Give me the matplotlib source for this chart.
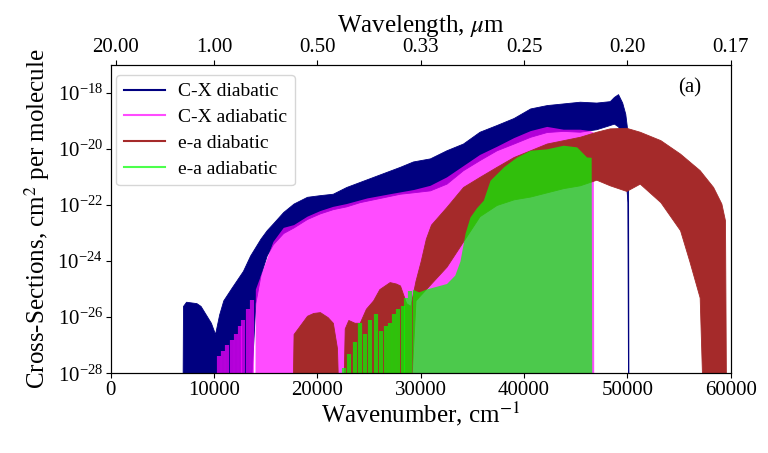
import numpy as np
import matplotlib
matplotlib.use("Agg")
import matplotlib.pyplot as plt
from matplotlib.lines import Line2D
from matplotlib.ticker import NullLocator

plt.rcParams['font.family'] = 'serif'
plt.rcParams['font.serif'] = ['Liberation Serif', 'DejaVu Serif']
plt.rcParams['mathtext.fontset'] = 'stix'

FLOOR = -29.0  # below the lower y limit

# C-X diabatic: wavenumber (cm-1), log10 of upper / lower envelope of the band
cx_dia_wn = [6950, 7000, 7300, 8300, 8700, 9200, 9700, 10100, 10500, 10900, 11700, 12800, 13500,
             14000, 14500, 15100, 15700, 16700, 17700, 19000, 20250, 21500, 22800,
             24100, 25400, 26700, 28000, 29250, 30900, 32500, 34100, 35700, 37350,
             39000, 40600, 42200, 43800, 45400, 47000, 48300, 48700, 49100, 49500,
             49800, 49950, 50000, 50070, 50110]
cx_dia_hi = [FLOOR, -25.6, -25.45, -25.5, -25.6, -25.9, -26.2, -26.6, -25.9, -25.4, -24.95, -24.35, -23.8,
             -23.5, -23.2, -22.9, -22.66, -22.25, -21.95, -21.71, -21.65, -21.6, -21.36,
             -21.18, -21.0, -20.82, -20.64, -20.45, -20.34, -20.05, -19.81, -19.39, -19.15,
             -18.9, -18.56, -18.44, -18.38, -18.32, -18.35, -18.3, -18.15, -18.05, -18.35,
             -18.75, -19.2, -19.6, -21.2, FLOOR]
cx_dia_lo = [FLOOR] * 13 + \
            [-25.5, -24.5, -23.8, -23.4, -23.0, -22.8, -22.5, -22.3, -22.15, -22.05,
             -21.9, -21.8, -21.7, -21.6, -21.55, -21.48, -21.24, -20.76, -20.4, -20.05,
             -19.81, -19.57, -19.4, -19.36, -19.39, -19.3, -19.15, -19.1, -19.2, -19.5,
             -21.0, -21.6, -21.9, FLOOR, FLOOR]

# C-X adiabatic: separate teeth below 14000 cm-1, then a band down to the floor
cx_adi_teeth_wn = [10500, 10900, 11250, 11700, 12100, 12500, 12850, 13250, 13650]
cx_adi_teeth_hi = [-27.4, -27.2, -27.0, -26.8, -26.6, -26.3, -26.1, -25.7, -25.4]
cx_adi_wn = [13950, 14000, 14800, 15700, 16700,
             17700, 19000, 20250, 21500, 22800, 24800, 27000, 29300, 30900, 32500,
             34100, 35700, 37400, 39000, 40600, 42200, 43800, 45400, 46400, 46700, 46750]
cx_adi_hi = [FLOOR, -25.0, -24.2, -23.3, -22.8,
             -22.7, -22.4, -22.2, -22.05, -21.95, -21.75, -21.6, -21.45, -21.3, -21.0,
             -20.6, -20.2, -19.9, -19.6, -19.35, -19.2, -19.3, -19.3, -19.35, -19.4, FLOOR]

# e-a diabatic
ea_dia_wn = [17600, 17700, 18300, 19000, 19600, 20250, 21000, 21500, 21900, 22050,
             22500, 22650, 23000, 23600, 24100, 24700, 25400, 26000, 26400, 27000,
             27600, 28000, 28600, 29000, 29500, 30000, 30500, 31000, 32500, 34100,
             35700, 37350, 39000, 40600, 42200, 43800, 45400, 47000, 48300, 49900,
             51200, 53200, 55100, 56000, 57000, 57300, 58300, 59100, 59450, 59550]
ea_dia_hi = [FLOOR, -26.6, -26.3, -25.95, -25.85, -25.82, -26.0, -26.2, -27.1, FLOOR,
             FLOOR, -26.4, -26.1, -26.2, -26.2, -25.7, -25.4, -25.0, -24.9, -24.75,
             -24.8, -24.87, -25.5, -25.6, -24.7, -24.0, -23.2, -22.7, -22.07, -21.36,
             -21.0, -20.64, -20.29, -20.05, -19.81, -19.69, -19.57, -19.39, -19.27, -19.25,
             -19.39, -19.69, -20.17, -20.45, -20.76, -20.9, -21.36, -21.95, -22.55, FLOOR]
ea_dia_lo = [FLOOR] * 24 + \
            [-25.4, -25.2, -25.0, -24.8, -24.2, -23.3,
             -22.4, -22.0, -21.8, -21.7, -21.55, -21.4, -21.3, -21.1, -21.3, -21.5,
             -21.24, -21.9, -22.9, -24.0, -25.3, FLOOR, FLOOR, FLOOR, FLOOR, FLOOR]

# e-a adiabatic: separate teeth below 29200 cm-1, then a band down to the floor
ea_adi_teeth_wn = [22600, 23100, 23600, 24100, 24600, 25100, 25650, 26200, 26650,
                   27050, 27450, 27850, 28250, 28600, 28950]
ea_adi_teeth_hi = [-27.8, -27.3, -26.9, -26.2, -26.6, -26.1, -25.9, -26.5, -26.3,
                   -26.2, -25.9, -25.7, -25.6, -25.3, -25.05]
ea_adi_wn = [29150, 29200, 29800, 30500, 31500, 32500, 33300, 33800, 34300, 34770,
             35400, 36060, 36710, 38020, 39290, 40580, 42190, 43800, 45100, 46060, 46500, 46560]
ea_adi_hi = [FLOOR, -25.0, -25.1, -25.0, -24.9, -24.8, -24.5, -24.0, -23.0, -22.43,
             -22.1, -21.83, -21.12, -20.64, -20.29, -20.05, -20.0, -19.87, -19.93, -20.29, -20.3, FLOOR]

top_ticks = [500, 10000, 20000, 30000, 40000, 50000, 60000]
top_labels = ['20.00', '1.00', '0.50', '0.33', '0.25', '0.20', '0.17']

fig = plt.figure(figsize=(7.68, 4.53), dpi=100)
ax = fig.add_axes([0.1441, 0.176, 0.8073, 0.6812])

ax.fill_between(cx_dia_wn, 10**np.array(cx_dia_lo), 10**np.array(cx_dia_hi),
                color='navy', lw=0.6)
ax.vlines(cx_adi_teeth_wn, 10**FLOOR, 10**np.array(cx_adi_teeth_hi),
          color='magenta', alpha=0.7, lw=3)
ax.fill_between(cx_adi_wn, 10**FLOOR, 10**np.array(cx_adi_hi),
                color='magenta', alpha=0.7, lw=0)
ax.fill_between(ea_dia_wn, 10**np.array(ea_dia_lo), 10**np.array(ea_dia_hi),
                color='brown', lw=0.6)
ax.vlines(ea_adi_teeth_wn, 10**FLOOR, 10**np.array(ea_adi_teeth_hi),
          color='lime', alpha=0.7, lw=3)
ax.fill_between(ea_adi_wn, 10**FLOOR, 10**np.array(ea_adi_hi),
                color='lime', alpha=0.7, lw=0)

ax.set_yscale('log')
ax.set_xlim(0, 60000)
ax.set_ylim(1e-28, 1e-17)
ax.set_yticks([1e-28, 1e-26, 1e-24, 1e-22, 1e-20, 1e-18])
ax.yaxis.set_minor_locator(NullLocator())
ax.set_xticks(range(0, 60001, 10000))
ax.tick_params(labelsize=15, pad=2)
ax.set_xlabel('Wavenumber, cm$^{-1}$', fontsize=18, labelpad=0)
ax.set_ylabel('Cross-Sections, cm$^{2}$ per molecule', fontsize=18)

ax2 = ax.twiny()
ax2.set_xlim(ax.get_xlim())
ax2.set_xticks(top_ticks)
ax2.set_xticklabels(top_labels)
ax2.tick_params(labelsize=15, pad=2)
ax2.set_xlabel('Wavelength, $\\mu$m', fontsize=18)

handles = [Line2D([], [], color='navy', lw=1.5),
           Line2D([], [], color='magenta', alpha=0.7, lw=1.5),
           Line2D([], [], color='brown', lw=1.5),
           Line2D([], [], color='lime', alpha=0.7, lw=1.5)]
ax.legend(handles, ['C-X diabatic', 'C-X adiabatic', 'e-a diabatic', 'e-a adiabatic'],
          loc='upper left', bbox_to_anchor=(0.0085, 0.9666), borderaxespad=0,
          fontsize=14, handlelength=2.1, handletextpad=0.7, labelspacing=0.42)

ax.text(0.934, 0.925, '(a)', transform=ax.transAxes, fontsize=15,
        ha='center', va='center')

fig.savefig('out.png', dpi=100)
